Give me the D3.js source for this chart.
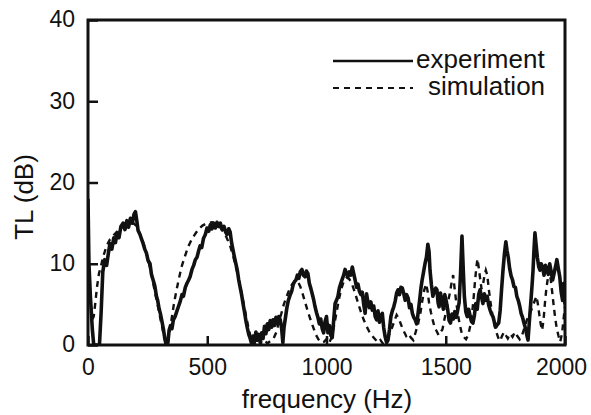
<!DOCTYPE html>
<html>
<head>
<meta charset="utf-8">
<script src="https://cdn.jsdelivr.net/npm/d3@7"></script>
<style>
  body { margin: 0; background: #fff; }
  text { font-family: "Liberation Sans", Arial, sans-serif; fill: #111; }
</style>
</head>
<body>
<div id="chart"></div>
<script>
// frequency (Hz), TL (dB)
var experiment = [
  [0, 18], [4, 10], [10, 6], [18, 2], [24, 0], [35, 0], [48, 0], [55, 4], [62, 9], [70, 10.5], [78, 9.8],
  [85, 11.2], [92, 12.5], [100, 11.8], [108, 13.2], [115, 12.6], [122, 13.8], [130, 13.2], [138, 14.6],
  [147, 15], [155, 14.2], [163, 15.3], [170, 14.5], [178, 15.6], [186, 15], [193, 16.1], [199, 16.4],
  [205, 15.2], [210, 14.1], [218, 13.6], [225, 13], [231, 12.5], [238, 11.8], [245, 11.3], [252, 10.4],
  [260, 10], [266, 8.7], [273, 8], [280, 7.3], [287, 6], [292, 5.5], [298, 4.5], [304, 3.8], [310, 2.9],
  [316, 2], [322, 0.8], [328, 0], [335, 0.3], [340, 1.8], [346, 2.4], [352, 2], [358, 3.1], [365, 3.5],
  [373, 4.2], [380, 4.8], [387, 5.4], [394, 6.2], [400, 6], [408, 7.1], [415, 7.6], [422, 8], [428, 8.4],
  [436, 9.3], [443, 9.8], [450, 10.5], [457, 10.8], [464, 11.6], [470, 12.2], [477, 12], [484, 13.1],
  [492, 13.6], [499, 14.4], [506, 14], [513, 14.8], [520, 14.3], [527, 15], [534, 14.4], [541, 15.1],
  [548, 14.6], [555, 15], [562, 14.2], [570, 14.6], [577, 13.9], [583, 13.6], [590, 14.3], [596, 13.9],
  [602, 12.6], [608, 11.7], [614, 10.8], [620, 10], [626, 9.2], [632, 8], [638, 7.1], [644, 6.2],
  [650, 5.1], [656, 4.1], [662, 3], [668, 2.1], [674, 1.3], [680, 0.8], [686, 0.2], [692, 1.1], [698, 0.4],
  [704, 1.6], [710, 0.6], [716, 1.3], [722, 0.3], [728, 1.5], [734, 0.8], [740, 2.3], [746, 1.4],
  [752, 2.6], [758, 1.9], [764, 3], [770, 2.2], [776, 3.1], [782, 2.4], [788, 3.4], [794, 2.6], [800, 3.5],
  [806, 3.1], [812, 2], [817, 0.3], [822, 2.2], [828, 3.4], [834, 4.6], [840, 5.5], [847, 6.1], [854, 6.6],
  [860, 7.4], [866, 7.8], [872, 8], [878, 8.6], [884, 8.2], [890, 9], [897, 9.3], [903, 8.6], [910, 8.4],
  [916, 9.1], [922, 8.8], [928, 7.6], [934, 7], [940, 6.3], [946, 5.6], [952, 4.7], [958, 4], [964, 3.4],
  [970, 2.6], [976, 3.2], [982, 2], [988, 1.5], [994, 2.9], [1000, 3.5], [1006, 1.5], [1012, 2.4],
  [1018, 1.2], [1024, 0.9], [1030, 3], [1036, 5.1], [1042, 5.5], [1048, 6], [1054, 7], [1060, 7.6],
  [1066, 8.1], [1072, 8.6], [1078, 9.3], [1084, 8.8], [1090, 8.4], [1096, 9], [1102, 8.6], [1108, 9.6],
  [1114, 8.8], [1120, 8], [1126, 7.1], [1132, 7.5], [1138, 6.6], [1144, 6.2], [1150, 6.5], [1156, 5],
  [1162, 3.9], [1168, 6.3], [1174, 5.2], [1180, 4.6], [1186, 5.3], [1192, 4.3], [1198, 4.8], [1204, 3.5],
  [1210, 3.1], [1216, 4.2], [1222, 2.8], [1228, 3.6], [1234, 3.9], [1240, 2.1], [1246, 1], [1252, 0.3],
  [1258, 0.6], [1264, 1.9], [1270, 3.5], [1276, 4.2], [1282, 4.7], [1288, 5.4], [1294, 6.4], [1300, 6.8],
  [1306, 6.2], [1312, 7.1], [1318, 7], [1324, 6.3], [1330, 5.5], [1336, 6.2], [1342, 5.8], [1348, 4.6],
  [1354, 5], [1360, 3.9], [1366, 3.4], [1372, 3.1], [1378, 2.6], [1384, 3.9], [1390, 5.4], [1396, 7],
  [1401, 8], [1407, 9], [1413, 10], [1419, 10.8], [1425, 12.4], [1430, 11.5], [1434, 9.2], [1440, 7.4],
  [1446, 6], [1452, 6.6], [1458, 7], [1463, 6.8], [1468, 5.2], [1472, 4.7], [1478, 6.4], [1484, 5.4],
  [1490, 4.4], [1496, 6.2], [1502, 5.4], [1508, 4.4], [1514, 3], [1520, 2.7], [1526, 3.8], [1532, 3.2],
  [1538, 4.1], [1544, 3.4], [1550, 4.3], [1556, 5.2], [1562, 8.8], [1568, 13.4], [1573, 9.6], [1578, 6],
  [1584, 4.1], [1590, 3.5], [1596, 4.4], [1602, 3.6], [1608, 2.9], [1614, 2.7], [1620, 3.6], [1626, 5.1],
  [1632, 4.4], [1638, 6.2], [1644, 6.8], [1650, 5.9], [1656, 5.1], [1662, 6.3], [1668, 5.5], [1674, 6],
  [1680, 4.9], [1686, 4.3], [1692, 3.8], [1698, 3.5], [1704, 2.8], [1710, 2.2], [1716, 2.5], [1722, 2.7],
  [1728, 4.2], [1734, 6.8], [1740, 9.2], [1746, 11.2], [1752, 12.7], [1757, 11.6], [1762, 10.8],
  [1768, 9.4], [1774, 8.5], [1780, 8], [1786, 7.2], [1792, 7.1], [1798, 6], [1804, 5.5], [1810, 4.8],
  [1816, 3.9], [1822, 3.4], [1828, 2.7], [1834, 2.1], [1840, 1.2], [1845, 0.6], [1850, 2.7], [1856, 5],
  [1862, 7.4], [1866, 9.2], [1870, 11.7], [1874, 13.8], [1879, 12.3], [1884, 10.8], [1890, 9.6],
  [1895, 9.2], [1900, 10], [1906, 9.6], [1912, 8.6], [1918, 9.8], [1924, 9.2], [1930, 8.7], [1936, 10],
  [1942, 9], [1948, 8], [1954, 8.8], [1960, 9.6], [1966, 10.5], [1972, 9.4], [1978, 8.4], [1984, 6.5],
  [1990, 5.5], [1995, 7.6], [2000, 5]
];

var simulation = [
  [0, 10], [6, 7.5], [12, 5], [18, 3.2], [24, 3.5], [30, 5], [38, 7.2], [46, 8.8], [55, 9.8], [65, 11],
  [78, 12.2], [92, 13], [110, 13.6], [130, 14.2], [150, 14.6], [170, 14.9], [190, 15], [205, 14.6],
  [220, 13.5], [235, 12.3], [250, 10.8], [265, 8.8], [280, 6.6], [295, 4.5], [308, 2.6], [318, 1.2],
  [326, 0.3], [332, 0], [338, 0.8], [345, 2.2], [352, 3.5], [360, 5], [370, 6.6], [380, 8], [392, 9.6],
  [405, 10.8], [420, 12.1], [435, 13], [450, 13.7], [465, 14.3], [480, 14.7], [500, 15], [520, 15.1],
  [540, 14.9], [560, 14.3], [580, 13.3], [595, 12.3], [610, 10.8], [625, 9], [640, 7], [652, 5.2],
  [664, 3.4], [675, 1.8], [686, 0.6], [695, 0], [705, 0.3], [715, 0.8], [728, 0.3], [740, 0.6], [752, 0.2],
  [765, 0.5], [778, 0.8], [790, 1.6], [800, 2.8], [810, 3.8], [820, 4.9], [832, 5.9], [844, 6.8],
  [856, 7.5], [868, 7.9], [880, 7.8], [890, 7.2], [900, 6.3], [910, 5.3], [920, 4.3], [932, 3.2],
  [944, 2.2], [955, 1.3], [966, 0.7], [978, 0.3], [990, 0.4], [1002, 0.8], [1012, 0.3], [1022, 1],
  [1032, 2.4], [1042, 4], [1052, 5.6], [1062, 6.9], [1072, 7.8], [1084, 8.3], [1096, 8.1], [1108, 7.4],
  [1120, 6.4], [1132, 5.2], [1144, 4.1], [1156, 3.1], [1168, 2.3], [1180, 1.6], [1192, 1.1], [1204, 0.7],
  [1216, 0.3], [1226, 0.6], [1236, 0.2], [1248, 0.5], [1260, 1.1], [1272, 1.9], [1284, 2.9], [1294, 3.7],
  [1304, 3.2], [1314, 2.4], [1324, 1.7], [1334, 1.1], [1344, 1.4], [1354, 0.9], [1364, 0.6], [1374, 1.6],
  [1384, 2.6], [1394, 4], [1402, 5.5], [1410, 6.8], [1418, 7.5], [1424, 6.6], [1430, 5.2], [1438, 4],
  [1446, 3], [1454, 2.1], [1462, 1.7], [1470, 1.2], [1478, 1.6], [1486, 1.9], [1494, 3.1], [1502, 4.2],
  [1510, 5.4], [1518, 6.5], [1525, 7.8], [1531, 8.6], [1537, 7], [1543, 5.5], [1550, 4], [1558, 2.6],
  [1566, 1.6], [1575, 1], [1585, 0.7], [1595, 1.3], [1603, 2.4], [1610, 3.8], [1616, 5.5], [1622, 7.6],
  [1628, 9.5], [1633, 10.6], [1638, 9.6], [1644, 8.2], [1650, 6.9], [1656, 7.4], [1662, 8.5], [1668, 9.2],
  [1674, 8.6], [1680, 7], [1686, 5.6], [1692, 4.4], [1698, 3.3], [1705, 2.3], [1712, 1.6], [1720, 0.9],
  [1728, 0.5], [1736, 1.1], [1744, 1.6], [1752, 1.2], [1760, 0.8], [1770, 1.4], [1780, 1], [1790, 1.6],
  [1800, 1.1], [1810, 0.7], [1820, 1.2], [1830, 2.1], [1840, 3.1], [1850, 3.7], [1860, 4.4], [1870, 5.2],
  [1880, 6], [1886, 5.1], [1892, 3.8], [1898, 2.6], [1904, 1.8], [1910, 3.1], [1916, 5.2], [1922, 7],
  [1928, 8.2], [1934, 9.2], [1940, 8.1], [1946, 6.6], [1952, 5], [1958, 3.5], [1964, 2.3], [1972, 1.2],
  [1980, 0.4], [1988, 1.5], [1994, 3.2], [2000, 4.8]
];

var xTicks = [0, 500, 1000, 1500, 2000];
var yTicks = [0, 10, 20, 30, 40];
var legendNames = ["experiment", "simulation"];

// Set up dimensions
var margin = {top: 20, right: 26, bottom: 70, left: 88},
    width = 591 - margin.left - margin.right,
    height = 415 - margin.top - margin.bottom;

var svg = d3.select("#chart")
    .append("svg")
    .attr("width", 591)
    .attr("height", 415)
    .append("g")
    .attr("transform", "translate(" + margin.left + "," + margin.top + ")");

var x = d3.scaleLinear().domain([0, 2000]).range([0, width]);
var y = d3.scaleLinear().domain([0, 40]).range([height, 0]);

svg.append("clipPath").attr("id", "clip")
    .append("rect").attr("width", width).attr("height", height);

var line = d3.line()
    .x(d => x(d[0]))
    .y(d => y(d[1]));

// simulation (dashed)
svg.append("path")
    .datum(simulation)
    .attr("clip-path", "url(#clip)")
    .attr("fill", "none")
    .attr("stroke", "#111")
    .attr("stroke-width", 2.4)
    .attr("stroke-dasharray", "6,5")
    .attr("d", line);

// experiment (solid)
svg.append("path")
    .datum(experiment)
    .attr("clip-path", "url(#clip)")
    .attr("fill", "none")
    .attr("stroke", "#111")
    .attr("stroke-width", 3.6)
    .attr("stroke-linejoin", "round")
    .attr("d", line);

// Axes: ticks pointing inward
var xAxis = svg.append("g")
    .attr("transform", "translate(0," + height + ")")
    .call(d3.axisBottom(x).tickValues(xTicks).tickFormat(d3.format("d"))
        .tickSizeInner(-9).tickSizeOuter(0).tickPadding(14));
var yAxis = svg.append("g")
    .call(d3.axisLeft(y).tickValues(yTicks).tickFormat(d3.format("d"))
        .tickSizeInner(-10).tickSizeOuter(0).tickPadding(13));

[xAxis, yAxis].forEach(function(g) {
    g.select(".domain").remove();
    g.selectAll(".tick line").attr("stroke", "#111").attr("stroke-width", 2.5);
    g.selectAll(".tick text")
        .style("font-family", "'Liberation Sans', Arial, sans-serif")
        .style("font-size", "23px")
        .attr("fill", "#111");
});
yAxis.selectAll(".tick text").attr("dy", "0.3em");
xAxis.selectAll(".tick text").filter(d => d === 2000).attr("dx", -4);

// frame
svg.append("rect")
    .attr("width", width)
    .attr("height", height)
    .attr("fill", "none")
    .attr("stroke", "#111")
    .attr("stroke-width", 3);

// Axis labels
svg.append("text")
    .attr("x", 327 - margin.left)
    .attr("y", 408 - margin.top)
    .attr("text-anchor", "middle")
    .style("font-size", "26px")
    .text("frequency (Hz)");

svg.append("text")
    .attr("transform", "rotate(-90)")
    .attr("x", -(197 - margin.top))
    .attr("y", 33 - margin.left)
    .attr("text-anchor", "middle")
    .style("font-size", "26px")
    .text("TL (dB)");

// Legend
var legend = svg.append("g");
legendNames.forEach(function(name, i) {
    var ly = 41 + i * 27;
    legend.append("line")
        .attr("x1", 333 - margin.left)
        .attr("x2", 413 - margin.left)
        .attr("y1", ly)
        .attr("y2", ly)
        .attr("stroke", "#111")
        .attr("stroke-width", i === 0 ? 2.4 : 2.2)
        .attr("stroke-dasharray", i === 0 ? null : "6,5");
    legend.append("text")
        .attr("x", (i === 0 ? 416 : 428) - margin.left)
        .attr("y", ly + 7)
        .style("font-size", "26px")
        .text(name);
});
</script>
</body>
</html>
